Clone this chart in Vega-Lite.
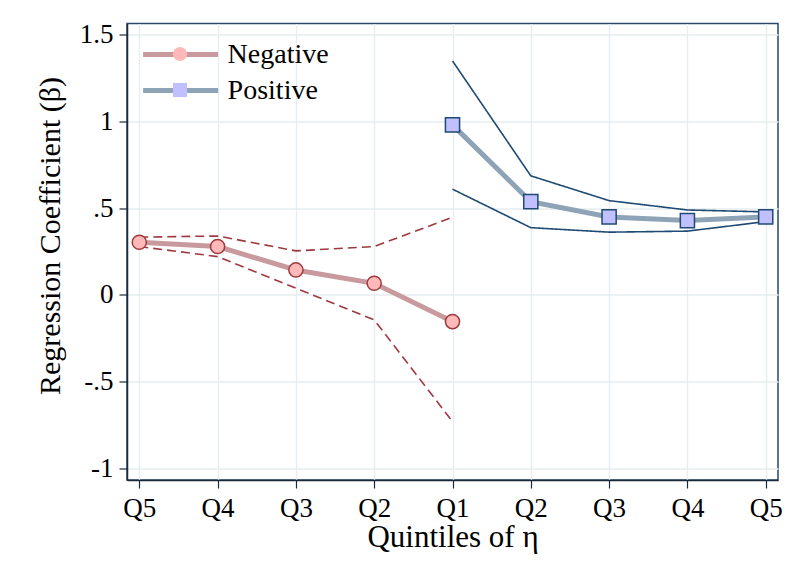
{
  "$schema": "https://vega.github.io/schema/vega-lite/v6.json",
  "autosize": "none",
  "width": 651,
  "height": 456.5,
  "padding": {"left": 127, "top": 23.5, "right": 14, "bottom": 98},
  "background": "white",
  "config": {
    "font": "Liberation Serif",
    "view": {"stroke": "#2a4868", "strokeWidth": 1.5},
    "axis": {
      "labelFont": "Liberation Serif",
      "titleFont": "Liberation Serif",
      "labelColor": "black",
      "titleColor": "black",
      "titleFontWeight": "normal",
      "grid": true,
      "gridColor": "#e6eef1",
      "gridWidth": 1.5,
      "tickColor": "#1a2a3a",
      "tickSize": 8,
      "tickWidth": 1.2,
      "domainColor": "#1a2a3a",
      "domainWidth": 1.5
    },
    "legend": {
      "labelFont": "Liberation Serif",
      "labelFontSize": 28,
      "rowPadding": 8,
      "padding": 0,
      "title": null
    }
  },
  "data": {
    "values": [
      {"pos": 1, "series": "Negative", "beta": 0.304, "lo": 0.279, "hi": 0.333},
      {"pos": 2, "series": "Negative", "beta": 0.279, "lo": 0.221, "hi": 0.340},
      {"pos": 3, "series": "Negative", "beta": 0.144, "lo": 0.039, "hi": 0.254},
      {"pos": 4, "series": "Negative", "beta": 0.067, "lo": -0.144, "hi": 0.279},
      {"pos": 5, "series": "Negative", "beta": -0.154, "lo": -0.731, "hi": 0.448},
      {"pos": 5, "series": "Positive", "beta": 0.981, "lo": 0.610, "hi": 1.350},
      {"pos": 6, "series": "Positive", "beta": 0.538, "lo": 0.388, "hi": 0.687},
      {"pos": 7, "series": "Positive", "beta": 0.450, "lo": 0.362, "hi": 0.544},
      {"pos": 8, "series": "Positive", "beta": 0.429, "lo": 0.368, "hi": 0.490},
      {"pos": 9, "series": "Positive", "beta": 0.450, "lo": 0.423, "hi": 0.479}
    ]
  },
  "encoding": {
    "x": {
      "field": "pos",
      "type": "quantitative",
      "scale": {"domain": [0.843, 9.157], "nice": false, "zero": false},
      "axis": {
        "values": [1, 2, 3, 4, 5, 6, 7, 8, 9],
        "labelExpr": "['Q5','Q4','Q3','Q2','Q1','Q2','Q3','Q4','Q5'][datum.value - 1]",
        "labelFontSize": 27,
        "labelPadding": 7,
        "title": "Quintiles of η",
        "titleFontSize": 31,
        "titlePadding": 1
      }
    }
  },
  "layer": [
    {
      "mark": {"type": "rule", "color": "black", "strokeWidth": 1.5},
      "encoding": {"y": {"datum": 0, "type": "quantitative"}}
    },
    {
      "mark": {"type": "line", "strokeWidth": 1.6},
      "encoding": {
        "y": {
          "field": "hi",
          "type": "quantitative",
          "scale": {"domain": [-1.068, 1.566], "nice": false, "zero": false},
          "axis": {
            "values": [-1, -0.5, 0, 0.5, 1, 1.5],
            "labelExpr": "datum.value == 0 ? '0' : replace(replace(format(datum.value, '.1~f'), '0.', '.'), '\u2212', '-')",
            "labelFontSize": 27,
            "labelPadding": 6,
            "title": "Regression Coefficient (β)",
            "titleFontSize": 30,
            "titlePadding": 14,
            "titleY": 212
          }
        },
        "detail": {"field": "series"},
        "stroke": {
          "field": "series",
          "type": "nominal",
          "scale": {"range": ["#9e3a3e", "#1f4a73"]},
          "legend": null
        },
        "strokeDash": {
          "field": "series",
          "type": "nominal",
          "scale": {"range": [[9, 5], [1, 0]]},
          "legend": null
        }
      }
    },
    {
      "mark": {"type": "line", "strokeWidth": 1.6},
      "encoding": {
        "y": {"field": "lo", "type": "quantitative"},
        "detail": {"field": "series"},
        "stroke": {"field": "series", "type": "nominal", "legend": null},
        "strokeDash": {"field": "series", "type": "nominal", "legend": null}
      }
    },
    {
      "mark": {"type": "line", "strokeWidth": 5},
      "encoding": {
        "y": {"field": "beta", "type": "quantitative"},
        "color": {
          "field": "series",
          "type": "nominal",
          "scale": {"domain": ["Negative", "Positive"], "range": ["#c99a9d", "#8fa3b6"]},
          "legend": {
            "orient": "top-left",
            "offset": 16.5,
            "symbolType": "M-5,0H5",
            "symbolSize": 225,
            "symbolStrokeWidth": 5,
            "symbolOffset": 22.6,
            "labelColor": "black",
            "labelOffset": 33
          }
        }
      }
    },
    {
      "mark": {"type": "point", "filled": false, "opacity": 1, "strokeWidth": 1.5, "size": 200},
      "encoding": {
        "y": {"field": "beta", "type": "quantitative"},
        "shape": {
          "field": "series",
          "type": "nominal",
          "scale": {"range": ["circle", "square"]},
          "legend": {
            "orient": "none",
            "legendX": 39,
            "legendY": 16.5,
            "symbolSize": 200,
            "symbolStrokeWidth": 1.5,
            "symbolStrokeColor": "#5a3d5c",
            "labelExpr": "''",
            "encode": {
              "symbols": {
                "stroke": {"condition": {"test": "datum.value === 'Negative'", "value": "#9e3a3e"}, "value": "#1f4a73"},
                "strokeWidth": {"value": 1.5}
              }
            }
          }
        },
        "fill": {
          "field": "series",
          "type": "nominal",
          "scale": {"range": ["#ffb9b9", "#c0c0ff"]},
          "legend": {
            "orient": "none",
            "legendX": 39,
            "legendY": 16.5,
            "symbolSize": 200,
            "symbolStrokeWidth": 1.5,
            "symbolStrokeColor": "#5a3d5c",
            "labelExpr": "''",
            "encode": {
              "symbols": {
                "stroke": {"condition": {"test": "datum.value === 'Negative'", "value": "#9e3a3e"}, "value": "#1f4a73"},
                "strokeWidth": {"value": 1.5}
              }
            }
          }
        },
        "stroke": {
          "field": "series",
          "type": "nominal",
          "legend": null
        }
      }
    }
  ]
}
